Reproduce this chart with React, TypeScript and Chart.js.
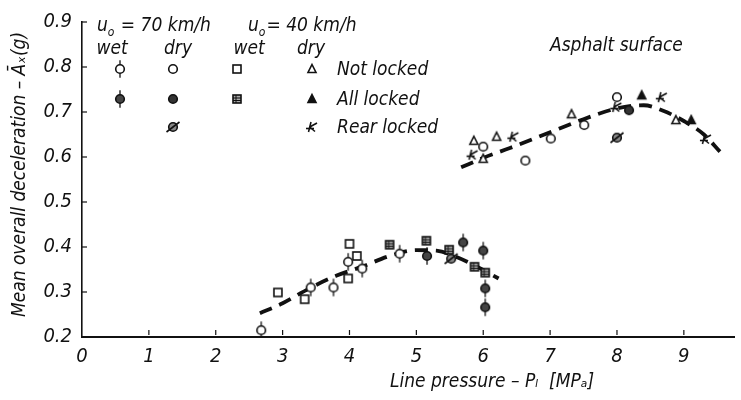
import React, { useEffect, useRef } from "react";
import { Chart, registerables } from "chart.js";
Chart.register(...registerables);

const INK = "#111111";
const FONT = "'DejaVu Sans Condensed', 'Liberation Sans Narrow', 'DejaVu Sans', sans-serif";

const X_TICKS = [0, 1, 2, 3, 4, 5, 6, 7, 8, 9];
const Y_TICKS = [0.2, 0.3, 0.4, 0.5, 0.6, 0.7, 0.8, 0.9];

// u0 = 70 km/h, wet, not locked
const wet70NotLockedX = [2.68, 3.42, 3.76, 3.98, 4.19, 4.75];
const wet70NotLockedY = [0.215, 0.31, 0.31, 0.367, 0.352, 0.385];
// u0 = 70 km/h, wet, all locked
const wet70AllLockedX = [5.16, 5.7, 6.0, 6.03, 6.03];
const wet70AllLockedY = [0.38, 0.41, 0.392, 0.308, 0.266];
// u0 = 70 km/h, dry, not locked
const dry70NotLockedX = [6.0, 6.63, 7.01, 7.51, 8.0];
const dry70NotLockedY = [0.623, 0.592, 0.641, 0.671, 0.733];
// u0 = 70 km/h, dry, all locked
const dry70AllLockedX = [8.18];
const dry70AllLockedY = [0.704];
// u0 = 70 km/h, dry, rear locked
const dry70RearLockedX = [8.0, 5.52];
const dry70RearLockedY = [0.643, 0.374];
// u0 = 40 km/h, wet, not locked
const wet40NotLockedX = [2.93, 3.33, 3.98, 4.0, 4.11];
const wet40NotLockedY = [0.299, 0.284, 0.33, 0.407, 0.38];
// u0 = 40 km/h, wet, all locked
const wet40AllLockedX = [4.6, 5.15, 5.49, 5.87, 6.03];
const wet40AllLockedY = [0.405, 0.414, 0.394, 0.356, 0.343];
// u0 = 40 km/h, dry, not locked
const dry40NotLockedX = [5.86, 6.0, 6.2, 7.32, 8.88];
const dry40NotLockedY = [0.636, 0.596, 0.645, 0.695, 0.682];
// u0 = 40 km/h, dry, all locked
const dry40AllLockedX = [8.37, 9.11];
const dry40AllLockedY = [0.737, 0.682];
// u0 = 40 km/h, dry, rear locked
const dry40RearLockedX = [5.84, 6.45, 7.99, 8.67, 9.33];
const dry40RearLockedY = [0.605, 0.645, 0.711, 0.733, 0.64];

// dashed trend curves
const wetCurveX = [2.66, 3.0, 3.4, 3.8, 4.2, 4.6, 5.0, 5.3, 5.6, 5.9, 6.23];
const wetCurveY = [0.253, 0.275, 0.308, 0.336, 0.357, 0.38, 0.393, 0.392, 0.378, 0.357, 0.33];
const dryCurveX = [5.67, 6.0, 6.4, 7.0, 7.5, 8.0, 8.4, 8.7, 9.0, 9.3, 9.54];
const dryCurveY = [0.577, 0.598, 0.62, 0.655, 0.684, 0.708, 0.715, 0.702, 0.68, 0.65, 0.612];

const X_TITLE = "Line pressure – P\u2097  [MP\u2090]";
const Y_TITLE = "Mean overall deceleration – \u0100\u2093(g)";

const pts = (xs: number[], ys: number[]) => xs.map((x, i) => ({ x, y: ys[i] }));

function drawMarker(ctx: CanvasRenderingContext2D, kind: string, cx: number, cy: number) {
  ctx.save();
  ctx.strokeStyle = INK;
  ctx.fillStyle = "#fff";
  ctx.lineWidth = 1.6;
  const r = 4.3;
  const circle = (fill: string) => {
    ctx.beginPath();
    ctx.arc(cx, cy, r, 0, Math.PI * 2);
    ctx.fillStyle = fill;
    ctx.fill();
    ctx.stroke();
  };
  const ticks = () => {
    ctx.beginPath();
    ctx.lineWidth = 1.3;
    ctx.moveTo(cx, cy - r - 4.5);
    ctx.lineTo(cx, cy - r);
    ctx.moveTo(cx, cy + r);
    ctx.lineTo(cx, cy + r + 4.5);
    ctx.stroke();
  };
  const line = (x1: number, y1: number, x2: number, y2: number) => {
    ctx.beginPath();
    ctx.moveTo(cx + x1, cy + y1);
    ctx.lineTo(cx + x2, cy + y2);
    ctx.stroke();
  };
  switch (kind) {
    case "circTick":
      circle("#fff");
      ticks();
      break;
    case "circTickFilled":
      circle("#444");
      ticks();
      break;
    case "circ":
      circle("#fff");
      break;
    case "circFilled":
      circle("#333");
      break;
    case "circSlash":
      circle("#888");
      line(-6.5, 5, 6.5, -5);
      break;
    case "square":
      ctx.fillRect(cx - 4, cy - 4, 8, 8);
      ctx.strokeRect(cx - 4, cy - 4, 8, 8);
      break;
    case "squareHatch":
      ctx.fillStyle = "#aaa";
      ctx.fillRect(cx - 4, cy - 4, 8, 8);
      ctx.strokeRect(cx - 4, cy - 4, 8, 8);
      ctx.lineWidth = 1;
      line(-4, -1, 4, -1);
      line(-4, 1.5, 4, 1.5);
      line(-1, -4, -1, 4);
      break;
    case "tri":
    case "triFilled":
      ctx.beginPath();
      ctx.moveTo(cx, cy - 4.5);
      ctx.lineTo(cx + 4, cy + 3.5);
      ctx.lineTo(cx - 4, cy + 3.5);
      ctx.closePath();
      ctx.fillStyle = kind === "tri" ? "#fff" : INK;
      ctx.fill();
      ctx.stroke();
      break;
    case "kStar":
      ctx.lineWidth = 1.6;
      line(-3.5, 5, -1, -5);
      line(-2.3, 0, 5, -4);
      line(-2.3, 0, 3, 4.5);
      line(-6, 1.5, 2, 1.5);
      break;
  }
  ctx.restore();
}

function makeMarker(kind: string): HTMLCanvasElement {
  const c = document.createElement("canvas");
  c.width = 22;
  c.height = 22;
  const ctx = c.getContext("2d")!;
  drawMarker(ctx, kind, 11, 11);
  return c;
}

const overlayPlugin = {
  id: "overlay",
  afterDraw(chart: any) {
    const { ctx, chartArea, scales } = chart;
    const xs = scales.x;
    const ys = scales.y;
    const L = chartArea.left;
    const T = chartArea.top;
    ctx.save();
    ctx.strokeStyle = INK;
    ctx.lineWidth = 1.2;
    // inner tick marks
    Y_TICKS.forEach((v) => {
      const y = ys.getPixelForValue(v);
      ctx.beginPath();
      ctx.moveTo(L, y);
      ctx.lineTo(L + 5, y);
      ctx.stroke();
    });
    X_TICKS.forEach((v) => {
      if (v === 0) return;
      const x = xs.getPixelForValue(v);
      ctx.beginPath();
      ctx.moveTo(x, chartArea.bottom - 2);
      ctx.lineTo(x, chartArea.bottom - 7);
      ctx.stroke();
    });

    ctx.fillStyle = INK;
    ctx.textBaseline = "alphabetic";
    const big = `italic 19px ${FONT}`;
    const small = `italic 12px ${FONT}`;
    const header = (x: number, y: number, rest: string) => {
      ctx.font = big;
      ctx.textAlign = "left";
      ctx.fillText("u", x, y);
      const w = ctx.measureText("u").width;
      ctx.font = small;
      ctx.fillText("o", x + w, y + 5);
      const w2 = ctx.measureText("o").width;
      ctx.font = big;
      ctx.fillText(rest, x + w + w2 + 1, y);
    };
    header(L + 15, T + 9, " = 70 km/h");
    header(L + 166, T + 9, "= 40 km/h");

    ctx.font = big;
    ctx.textAlign = "center";
    ctx.fillText("wet", L + 30, T + 32);
    ctx.fillText("dry", L + 96, T + 32);
    ctx.fillText("wet", L + 167, T + 32);
    ctx.fillText("dry", L + 229, T + 32);

    const cols = [L + 38, L + 91, L + 155, L + 230];
    const rows = [T + 47, T + 77, T + 105];
    drawMarker(ctx, "circTick", cols[0], rows[0]);
    drawMarker(ctx, "circ", cols[1], rows[0]);
    drawMarker(ctx, "square", cols[2], rows[0]);
    drawMarker(ctx, "tri", cols[3], rows[0]);
    drawMarker(ctx, "circTickFilled", cols[0], rows[1]);
    drawMarker(ctx, "circFilled", cols[1], rows[1]);
    drawMarker(ctx, "squareHatch", cols[2], rows[1]);
    drawMarker(ctx, "triFilled", cols[3], rows[1]);
    drawMarker(ctx, "circSlash", cols[1], rows[2]);
    drawMarker(ctx, "kStar", cols[3], rows[2]);

    ctx.font = big;
    ctx.textAlign = "left";
    ctx.textBaseline = "middle";
    ctx.fillText("Not locked", L + 255, rows[0] + 1);
    ctx.fillText("All locked", L + 255, rows[1] + 1);
    ctx.fillText("Rear locked", L + 255, rows[2] + 1);
    ctx.fillText("Asphalt surface", L + 468, T + 24);

    // axis titles
    ctx.font = `italic 19px ${FONT}`;
    ctx.textAlign = "center";
    ctx.fillText(X_TITLE, 492, 382);
    ctx.save();
    ctx.translate(20, (chartArea.top + chartArea.bottom) / 2 - 5);
    ctx.rotate(-Math.PI / 2);
    ctx.fillText(Y_TITLE, 0, 0);
    ctx.restore();
    ctx.restore();
  },
};

export default function App() {
  const ref = useRef<HTMLCanvasElement>(null);
  useEffect(() => {
    if (!ref.current) return;
    const scatter = (data: { x: number; y: number }[], kind: string) => ({
      data,
      pointStyle: makeMarker(kind),
      pointRadius: 6,
      pointHoverRadius: 6,
      showLine: false,
      order: 1,
    });
    const curve = (data: { x: number; y: number }[]) => ({
      data,
      showLine: true,
      pointRadius: 0,
      borderColor: INK,
      borderWidth: 3.8,
      borderDash: [13, 8],
      tension: 0.4,
      cubicInterpolationMode: "monotone",
      fill: false,
      order: 2,
    });
    const tickFont = { family: FONT, size: 20, style: "italic" as const };
    const chart = new Chart(ref.current, {
      type: "scatter",
      data: {
        datasets: [
          scatter(pts(wet70NotLockedX, wet70NotLockedY), "circTick"),
          scatter(pts(wet70AllLockedX, wet70AllLockedY), "circTickFilled"),
          scatter(pts(dry70NotLockedX, dry70NotLockedY), "circ"),
          scatter(pts(dry70AllLockedX, dry70AllLockedY), "circFilled"),
          scatter(pts(dry70RearLockedX, dry70RearLockedY), "circSlash"),
          scatter(pts(wet40NotLockedX, wet40NotLockedY), "square"),
          scatter(pts(wet40AllLockedX, wet40AllLockedY), "squareHatch"),
          scatter(pts(dry40NotLockedX, dry40NotLockedY), "tri"),
          scatter(pts(dry40AllLockedX, dry40AllLockedY), "triFilled"),
          scatter(pts(dry40RearLockedX, dry40RearLockedY), "kStar"),
          curve(pts(wetCurveX, wetCurveY)),
          curve(pts(dryCurveX, dryCurveY)),
        ] as any,
      },
      options: {
        animation: false,
        responsive: false,
        devicePixelRatio: 1,
        layout: { padding: { top: 20, right: 0, left: 0, bottom: 0 } },
        plugins: { legend: { display: false }, tooltip: { enabled: false } },
        scales: {
          x: {
            type: "linear",
            min: 0,
            max: 9.75,
            afterBuildTicks: (s: any) => {
              s.ticks = X_TICKS.map((v) => ({ value: v }));
            },
            afterFit: (s: any) => {
              s.height = 63;
            },
            grid: { display: false, drawTicks: false },
            border: { display: true, color: INK, width: 2 },
            ticks: {
              color: INK,
              font: tickFont,
              padding: 8,
              maxRotation: 0,
              autoSkip: false,
              callback: (v: any) => String(v),
            },
          },
          y: {
            type: "linear",
            min: 0.2,
            max: 0.9,
            afterBuildTicks: (s: any) => {
              s.ticks = Y_TICKS.map((v) => ({ value: v }));
            },
            afterFit: (s: any) => {
              s.width = 82;
            },
            grid: { display: false, drawTicks: false },
            border: { display: true, color: INK, width: 1.6 },
            ticks: {
              color: INK,
              font: tickFont,
              padding: 10,
              autoSkip: false,
              callback: (v: any) => Number(v).toFixed(1),
            },
          },
        },
      },
      plugins: [overlayPlugin],
    });
    return () => chart.destroy();
  }, []);
  return (
    <div style={{ position: "fixed", left: 0, top: 0, width: 741, height: 400, background: "#fff" }}>
      <canvas ref={ref} width={741} height={400} style={{ width: 741, height: 400 }} />
    </div>
  );
}
